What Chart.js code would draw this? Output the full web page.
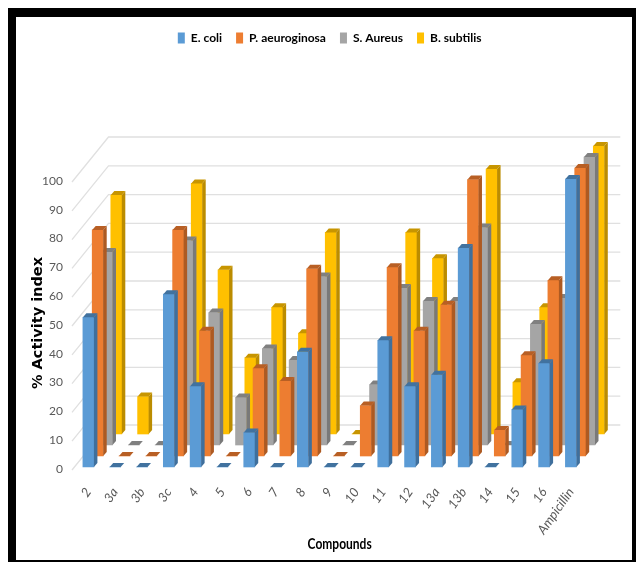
<!DOCTYPE html>
<html>
<head>
<meta charset="utf-8">
<title>% Activity index</title>
<script src="https://cdn.jsdelivr.net/npm/chart.js@4"></script>
<style>
  html, body { margin: 0; padding: 0; background: #fff; }
  #frame { position: absolute; left: 8px; top: 8px; width: 628px; height: 554px; box-sizing: border-box;
           border-style: solid; border-color: #000; border-width: 9px 4px 2px 8px; }
  #wrap { position: absolute; left: 0; top: 0; width: 636px; height: 562px; }
</style>
</head>
<body>
<div id="frame"></div>
<div id="wrap"><canvas id="chart" width="636" height="562"></canvas></div>
<script>
const categories = ['2', '3a', '3b', '3c', '4', '5', '6', '7', '8', '9', '10', '11', '12', '13a', '13b', '14', '15', '16', 'Ampicillin'];
const eColi = [52, 0, 0, 60, 28, 0, 12, 0, 40, 0, 0, 44, 28, 32, 76, 0, 20, 36, 100];
const pAeruginosa = [78.5, 0, 0, 78.5, 43.5, 0, 30.5, 26, 65, 0, 17.5, 65.5, 43.5, 52.5, 96, 9, 35, 61, 100];
const sAureus = [67, 0, 0, 71, 46, 16.5, 33.5, 29.5, 58.5, 0, 21, 54.5, 50, 50, 75.5, 0, 42, 51, 100];
const bSubtilis = [83, 13, 0, 87, 57, 26.5, 44, 35, 70, 0, 0, 70, 61, 50, 92, 18, 44, 40, 100];

const seriesNames = ['E. coli', 'P. aeuroginosa', 'S. Aureus', 'B. subtilis'];
const faceColors = ['#5B9BD5', '#ED7D31', '#A5A5A5', '#FFC000'];
const sideColors = ['#3F6F9C', '#AD5A22', '#797979', '#BB8C00'];
const topColors = ['#41729F', '#B85F24', '#808080', '#C79500'];

const stepX = 9.3, stepY = 11;   // shift between the series rows
const depthX = 3.5, depthY = 4;  // depth of one bar

// fake 3D: walls behind the bars, each series row shifted backwards, side and top faces added
const bars3d = {
    id: 'bars3d',
    beforeInit(chart) {
        // keep the empty band between the legend and the plot
        const fit = chart.legend.fit;
        chart.legend.fit = function () {
            fit.call(this);
            this.height += 125;
        };
    },
    beforeDatasetsDraw(chart) {
        const { ctx, scales: { x, y } } = chart;
        ctx.save();
        ctx.strokeStyle = '#e0e0e0';
        ctx.lineWidth = 1.3;
        y.ticks.forEach(t => {
            const py = y.getPixelForValue(t.value);
            ctx.beginPath();
            ctx.moveTo(x.left - 3, py + 3);
            ctx.lineTo(x.left + 33.5, py - 42);
            ctx.lineTo(x.right + 36, py - 42);
            ctx.stroke();
        });
        ctx.restore();
    },
    beforeDatasetDraw(chart, args) {
        chart.ctx.save();
        chart.ctx.translate(args.index * stepX, -args.index * stepY);
    },
    afterDatasetDraw(chart, args) {
        const ctx = chart.ctx;
        args.meta.data.forEach(bar => {
            const { x, y, base, width } = bar.getProps(['x', 'y', 'base', 'width'], true);
            const r = x + width / 2, l = x - width / 2;
            ctx.fillStyle = sideColors[args.index];
            ctx.beginPath();
            ctx.moveTo(r, y);
            ctx.lineTo(r, base);
            ctx.lineTo(r + depthX, base - depthY);
            ctx.lineTo(r + depthX, y - depthY);
            ctx.closePath();
            ctx.fill();
            ctx.fillStyle = topColors[args.index];
            ctx.beginPath();
            ctx.moveTo(l, y);
            ctx.lineTo(r, y);
            ctx.lineTo(r + depthX, y - depthY);
            ctx.lineTo(l + depthX, y - depthY);
            ctx.closePath();
            ctx.fill();
        });
        ctx.restore();
    },
    afterDraw(chart) {
        const { ctx, scales: { x } } = chart;
        ctx.save();
        ctx.fillStyle = '#000';
        ctx.font = 'bold 15px Lato';
        ctx.textAlign = 'center';
        ctx.textBaseline = 'middle';
        ctx.translate((x.left + x.right) / 2 + 10, 544);
        ctx.scale(0.8, 1);
        ctx.fillText('Compounds', 0, 0);
        ctx.restore();
    }
};

new Chart(document.getElementById('chart'), {
    type: 'bar',
    data: {
        labels: categories,
        datasets: [eColi, pAeruginosa, sAureus, bSubtilis].map((values, i) => ({
            label: seriesNames[i],
            data: values,
            backgroundColor: faceColors[i],
            borderWidth: 0,
            barThickness: 11,
            grouped: false,
            clip: false
        }))
    },
    plugins: [bars3d],
    options: {
        responsive: false,
        animation: false,
        layout: { padding: { left: 30, right: 51.7, top: 18, bottom: 0 } },
        plugins: {
            tooltip: { enabled: false },
            legend: {
                position: 'top',
                fullSize: false,
                onClick: null,
                labels: {
                    boxWidth: 7,
                    boxHeight: 11,
                    padding: 14,
                    color: '#000',
                    font: { family: 'Lato', size: 12, weight: 'bold' }
                }
            }
        },
        scales: {
            x: {
                grid: { display: false, drawTicks: false },
                border: { display: false },
                afterFit(scale) { scale.height = 95; },
                ticks: {
                    autoSkip: false,
                    minRotation: 55,
                    maxRotation: 55,
                    padding: 18,
                    color: '#595959',
                    font: { family: 'Lato', size: 13, style: 'italic' }
                }
            },
            y: {
                min: 0,
                max: 100,
                grid: { display: false, drawTicks: false },
                border: { display: false },
                afterFit(scale) { scale.width = 45; },
                title: {
                    display: true,
                    text: '% Activity index',
                    color: '#000',
                    padding: 0,
                    font: { family: '"DejaVu Sans"', size: 14.5, weight: 'bold' }
                },
                ticks: {
                    stepSize: 10,
                    padding: 12,
                    labelOffset: 2,
                    color: '#595959',
                    font: { family: 'Lato', size: 12 }
                }
            }
        }
    }
});
</script>
</body>
</html>
